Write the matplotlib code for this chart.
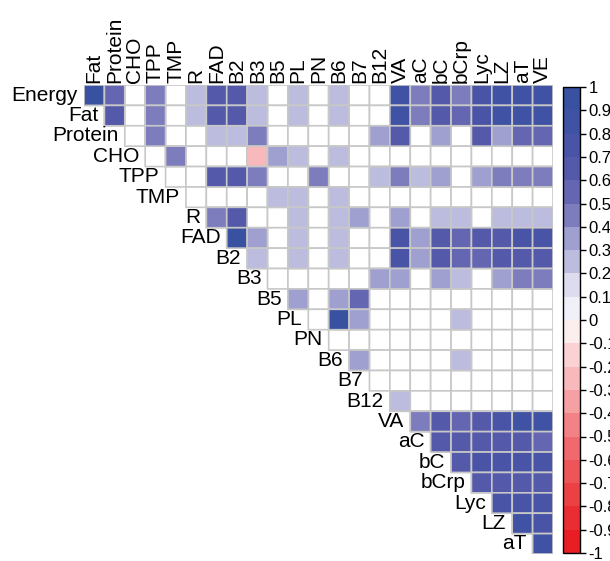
import numpy as np
import matplotlib
matplotlib.use('Agg')
import matplotlib.pyplot as plt
from matplotlib.colors import ListedColormap, BoundaryNorm

rows = ['Energy', 'Fat', 'Protein', 'CHO', 'TPP', 'TMP', 'R', 'FAD', 'B2', 'B3', 'B5', 'PL',
        'PN', 'B6', 'B7', 'B12', 'VA', 'aC', 'bC', 'bCrp', 'Lyc', 'LZ', 'aT']
cols = ['Fat', 'Protein', 'CHO', 'TPP', 'TMP', 'R', 'FAD', 'B2', 'B3', 'B5', 'PL', 'PN',
        'B6', 'B7', 'B12', 'VA', 'aC', 'bC', 'bCrp', 'Lyc', 'LZ', 'aT', 'VE']

# upper triangle, row i holds columns i..22 (0 = not significant, left blank)
r_energy = [.92, .58, 0, .47, 0, .25, .68, .68, .25, 0, .25, 0, .25, 0, 0, .85, .47, .6, .47, .7, .8, .8, .8]
r_fat = [.6, 0, .47, 0, .25, .68, .68, .25, 0, .25, 0, .25, 0, 0, .85, .48, .6, .58, .7, .8, .8, .8]
r_protein = [0, .47, 0, 0, .25, .25, .45, 0, 0, 0, 0, 0, .35, .62, 0, .35, 0, .62, .35, .58, .58]
r_cho = [0, .46, 0, 0, 0, -.25, .35, .25, 0, .25, 0, 0, 0, 0, 0, 0, 0, 0, 0, 0]
r_tpp = [0, 0, .62, .62, .48, 0, 0, .47, 0, 0, .25, .47, .25, .35, 0, .35, .45, .45, .45]
r_tmp = [0, 0, 0, 0, .25, .25, 0, .25, 0, 0, 0, 0, 0, 0, 0, 0, 0, 0]
r_r = [.47, .6, 0, 0, .25, 0, .25, .35, 0, .35, 0, .25, .25, 0, .25, .25, .25]
r_fad = [.9, .38, 0, .25, 0, .25, 0, 0, .7, .38, .62, .5, .62, .62, .7, .7]
r_b2 = [.25, 0, .25, 0, .25, 0, 0, .7, .38, .62, .5, .5, .6, .6, .6]
r_b3 = [0, 0, 0, 0, 0, .35, .38, 0, .35, .25, 0, .38, .48, .48]
r_b5 = [.38, 0, .38, .5, 0, 0, 0, 0, 0, 0, 0, 0, 0]
r_pl = [0, .9, .38, 0, 0, 0, 0, .25, 0, 0, 0, 0]
r_pn = [0, 0, 0, 0, 0, 0, 0, 0, 0, 0, 0]
r_b6 = [.38, 0, 0, 0, 0, .25, 0, 0, 0, 0]
r_b7 = [0, 0, 0, 0, 0, 0, 0, 0, 0]
r_b12 = [.25, 0, 0, 0, 0, 0, 0, 0]
r_va = [.48, .62, .58, .68, .75, .85, .8]
r_ac = [.68, .6, .6, .68, .62, .56]
r_bc = [.65, .7, .75, .72, .7]
r_bcrp = [.62, .62, .68, .6]
r_lyc = [.78, .72, .7]
r_lz = [.82, .75]
r_at = [.82]

all_rows = [r_energy, r_fat, r_protein, r_cho, r_tpp, r_tmp, r_r, r_fad, r_b2, r_b3, r_b5,
            r_pl, r_pn, r_b6, r_b7, r_b12, r_va, r_ac, r_bc, r_bcrp, r_lyc, r_lz, r_at]

n = len(cols)
M = np.full((n, n), np.nan)
for i, vals in enumerate(all_rows):
    M[i, i:] = vals

tri = np.where(np.isnan(M), np.nan, 1.0)
sig = np.where(M == 0, np.nan, M)

# discrete colour bins, red -> white -> blue
neg = ['#e81e24', '#ea2d32', '#ec4144', '#ee5558', '#f0696e', '#f28286',
       '#f5a0a2', '#f8b9bc', '#fad2d4', '#fdeeee']
pos = ['#f0f0f8', '#dcdcee', '#bcbcde', '#a0a0d0', '#7d7dbe', '#6466b2',
       '#5459a9', '#4a54a6', '#3f52a3', '#3851a0']
cmap = ListedColormap(neg + pos)
bounds = np.round(np.arange(-1, 1.01, 0.1), 1)
norm = BoundaryNorm(bounds, cmap.N)

fig = plt.figure(figsize=(6.1, 5.61), dpi=100)
ax = fig.add_axes([84/610, 7/561, 469/610, 469/561])
X, Y = np.meshgrid(np.arange(n + 1), np.arange(n + 1))
ax.pcolor(X, Y, np.ma.masked_invalid(tri), cmap=ListedColormap(['white']),
          edgecolors='#c8c8c8', linewidth=1.2)
mesh = ax.pcolor(X, Y, np.ma.masked_invalid(sig), cmap=cmap, norm=norm,
                 edgecolors='#c8c8c8', linewidth=1.2)
ax.set_xlim(0, n)
ax.set_ylim(n, 0)
ax.set_axis_off()

font = 'Liberation Sans'
for j, c in enumerate(cols):
    ax.text(j + 0.5, -0.12, c, rotation=90, ha='center', va='bottom',
            fontsize=15, family=font)
for i, r in enumerate(rows):
    ax.text(i - 0.3, i + 0.5, r, ha='right', va='center', fontsize=15, family=font)

cax = fig.add_axes([563/610, 8/561, 17/610, 466/561])
cb = fig.colorbar(mesh, cax=cax, ticks=bounds)
cb.outline.set_linewidth(1)
cb.ax.set_yticklabels(['%g' % (b + 0.0) for b in bounds], fontsize=12, family=font)
cb.ax.tick_params(length=4, width=1, pad=2)

fig.savefig('out.png', dpi=100)
